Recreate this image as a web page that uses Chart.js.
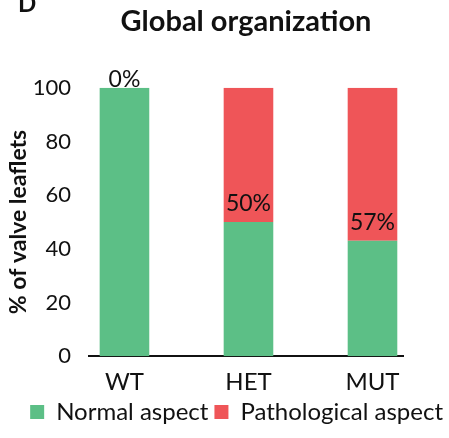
<!DOCTYPE html>
<html>
<head>
<meta charset="utf-8">
<script src="https://cdn.jsdelivr.net/npm/chart.js@4"></script>
<style>
  html, body { margin: 0; padding: 0; background: #fff; }
  #wrap { width: 449px; height: 438px; }
</style>
</head>
<body>
<div id="wrap"><canvas id="myChart"></canvas></div>
<script>
var groups = ['WT', 'HET', 'MUT'];
var normalAspect = [100, 50, 43];
var pathologicalAspect = [0, 50, 57];
var yTicks = [0, 20, 40, 60, 80, 100];

var FONT = "Lato, 'Open Sans', sans-serif";

function points(values) {
    return values.map(function (v, i) { return { x: i, y: v }; });
}

// writes the pathological % just above the boundary of the two segments
var pctLabels = {
    id: 'pctLabels',
    afterDatasetsDraw: function (chart) {
        var ctx = chart.ctx;
        var meta = chart.getDatasetMeta(1);
        ctx.save();
        ctx.font = '23px ' + FONT;
        ctx.fillStyle = '#111';
        ctx.textAlign = 'center';
        ctx.textBaseline = 'alphabetic';
        meta.data.forEach(function (bar, i) {
            var lift = pathologicalAspect[i] > 0 ? 11 : 1;
            ctx.fillText(pathologicalAspect[i] + '%', bar.x, bar.base - lift);
        });
        ctx.restore();
    }
};

// panel letter in the top-left corner
var panelLetter = {
    id: 'panelLetter',
    afterDraw: function (chart) {
        var ctx = chart.ctx;
        ctx.save();
        ctx.font = 'bold 24px ' + FONT;
        ctx.fillStyle = '#111';
        ctx.textBaseline = 'alphabetic';
        ctx.fillText('D', 18, 12);
        ctx.restore();
    }
};

var ctx = document.getElementById('myChart').getContext('2d');
var chart = new Chart(ctx, {
    type: 'bar',
    data: {
        datasets: [{
            label: 'Normal aspect',
            backgroundColor: '#5cbf86',
            data: points(normalAspect),
            barPercentage: 0.4,
            categoryPercentage: 1
        }, {
            label: 'Pathological aspect',
            backgroundColor: '#ef5558',
            data: points(pathologicalAspect),
            barPercentage: 0.4,
            categoryPercentage: 1
        }]
    },
    options: {
        responsive: true,
        maintainAspectRatio: false,
        animation: false,
        layout: {
            padding: { left: 0, right: 0, top: 0, bottom: 4 }
        },
        plugins: {
            title: {
                display: true,
                fullSize: false,
                text: 'Global organization',
                color: '#111',
                font: { family: FONT, size: 29, weight: 'bold' },
                padding: { top: 4, bottom: 49 }
            },
            legend: {
                display: true,
                position: 'bottom',
                align: 'end',
                labels: {
                    color: '#111',
                    font: { family: FONT, size: 24 },
                    boxWidth: 14,
                    boxHeight: 14,
                    padding: 6
                }
            },
            tooltip: { enabled: false }
        },
        scales: {
            x: {
                type: 'linear',
                stacked: true,
                offset: false,
                min: -0.286,
                max: 2.246,
                afterBuildTicks: function (axis) {
                    axis.ticks = groups.map(function (g, i) { return { value: i }; });
                },
                afterFit: function (axis) { axis.height = axis.height - 15; },
                grid: { display: false, drawTicks: false },
                border: { display: true, color: '#111', width: 2 },
                ticks: {
                    color: '#111',
                    font: { family: FONT, size: 24 },
                    padding: 12,
                    maxRotation: 0,
                    callback: function (v) { return groups[v]; }
                }
            },
            y: {
                stacked: true,
                min: 0,
                max: 100,
                afterFit: function (axis) { axis.width = 89; },
                afterBuildTicks: function (axis) {
                    axis.ticks = yTicks.map(function (v) { return { value: v }; });
                },
                grid: { display: false, drawTicks: false },
                border: { display: false },
                ticks: {
                    color: '#111',
                    font: { family: FONT, size: 22 },
                    padding: 18
                },
                title: {
                    display: true,
                    text: '% of valve leaflets',
                    color: '#111',
                    font: { family: FONT, size: 23, weight: 'bold' },
                    padding: { top: 5, bottom: 0 }
                }
            },
            // empty right-hand spacer so the plot ends at x=403 while the legend keeps the full width
            spacer: {
                type: 'linear',
                position: 'right',
                display: true,
                afterFit: function (axis) { axis.width = 46; },
                grid: { display: false, drawTicks: false },
                border: { display: false },
                ticks: { display: false }
            }
        }
    },
    plugins: [pctLabels, panelLetter]
});
</script>
</body>
</html>
